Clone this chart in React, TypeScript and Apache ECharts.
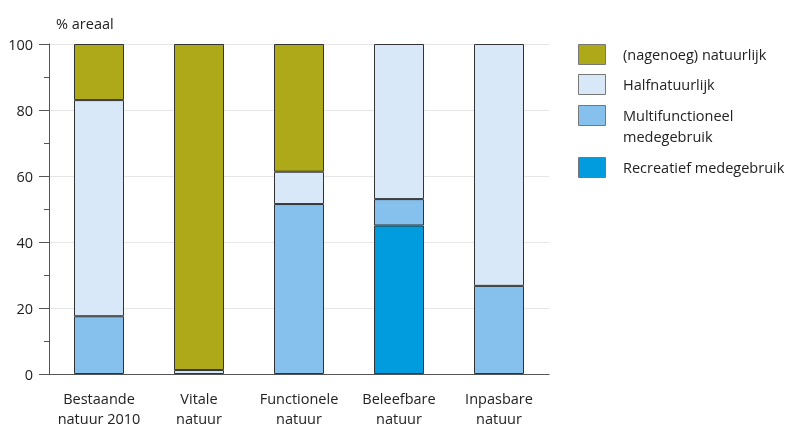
import React, { useEffect, useRef } from "react";
import * as echarts from "echarts";

const categories = [
  "Bestaande\nnatuur 2010",
  "Vitale\nnatuur",
  "Functionele\nnatuur",
  "Beleefbare\nnatuur",
  "Inpasbare\nnatuur",
];

const recreatief = [0, 0, 0, 45, 0];
const multifunctioneel = [17.5, 0, 51.5, 8, 26.7];
const halfnatuurlijk = [65.5, 1.2, 9.8, 47, 73.3];
const natuurlijk = [17, 98.8, 38.7, 0, 0];

const seriesNames = [
  "Recreatief medegebruik",
  "Multifunctioneel\nmedegebruik",
  "Halfnatuurlijk",
  "(nagenoeg) natuurlijk",
];
const seriesData = [recreatief, multifunctioneel, halfnatuurlijk, natuurlijk];
const seriesColors = ["#009CDD", "#85C1EC", "#D8E8F8", "#ADA918"];

const yTicks = [0, 20, 40, 60, 80, 100];

const FONT = "'Open Sans', 'Noto Sans', sans-serif";
const FS = 14.5;

export default function App() {
  const ref = useRef<HTMLDivElement>(null);
  useEffect(() => {
    if (!ref.current) return;
    const chart = echarts.init(ref.current, null, { renderer: "svg" });

    const legendOrder = [3, 2, 1, 0];
    const legendTops = [44, 74, 105, 157];
    const legendGraphics: any[] = [];
    legendOrder.forEach((si, i) => {
      legendGraphics.push({
        type: "rect",
        left: 578,
        top: legendTops[i],
        shape: { width: 27, height: 20 },
        style: { fill: seriesColors[si], stroke: "#777", lineWidth: 1 },
      });
      legendGraphics.push({
        type: "text",
        left: 623,
        top: legendTops[i],
        style: {
          text: seriesNames[si],
          font: `${FS}px ${FONT}`,
          fill: "#222",
          lineHeight: 21,
        },
      });
    });

    chart.setOption({
      animation: false,
      textStyle: { fontFamily: FONT },
      grid: { left: 49, right: 236, top: 44, bottom: 50, containLabel: false },
      title: {
        text: "% areaal",
        left: 51,
        top: 11,
        textStyle: { fontSize: FS, fontWeight: "normal", color: "#222", fontFamily: FONT },
      },
      xAxis: {
        type: "category",
        data: categories,
        axisLine: { lineStyle: { color: "#555", width: 1 } },
        axisTick: { show: false },
        axisLabel: {
          color: "#222",
          fontSize: FS,
          lineHeight: 20,
          margin: 14,
          interval: 0,
          fontFamily: FONT,
        },
      },
      yAxis: {
        type: "value",
        min: 0,
        max: 100,
        interval: 20,
        axisLine: { show: true, lineStyle: { color: "#555", width: 1 } },
        axisTick: { show: true, length: 10, lineStyle: { color: "#555" } },
        minorTick: { show: true, splitNumber: 2, length: 5, lineStyle: { color: "#555" } },
        splitLine: { show: true, lineStyle: { color: "#e6e6e6", width: 1 } },
        axisLabel: {
          color: "#222",
          fontSize: FS,
          margin: 16,
          fontFamily: FONT,
          formatter: (v: number) => (yTicks.includes(v) ? String(v) : ""),
        },
      },
      series: seriesData.map((d, i) => ({
        type: "bar",
        name: seriesNames[i],
        stack: "total",
        data: d.map((v) => (v === 0 ? "-" : v)),
        barWidth: 50,
        itemStyle: {
          color: seriesColors[i],
          borderColor: "#333",
          borderWidth: 1,
        },
      })),
      graphic: legendGraphics,
    });
    return () => chart.dispose();
  }, []);
  return (
    <div
      ref={ref}
      style={{ position: "fixed", left: 0, top: 0, width: 785, height: 428 }}
    />
  );
}
